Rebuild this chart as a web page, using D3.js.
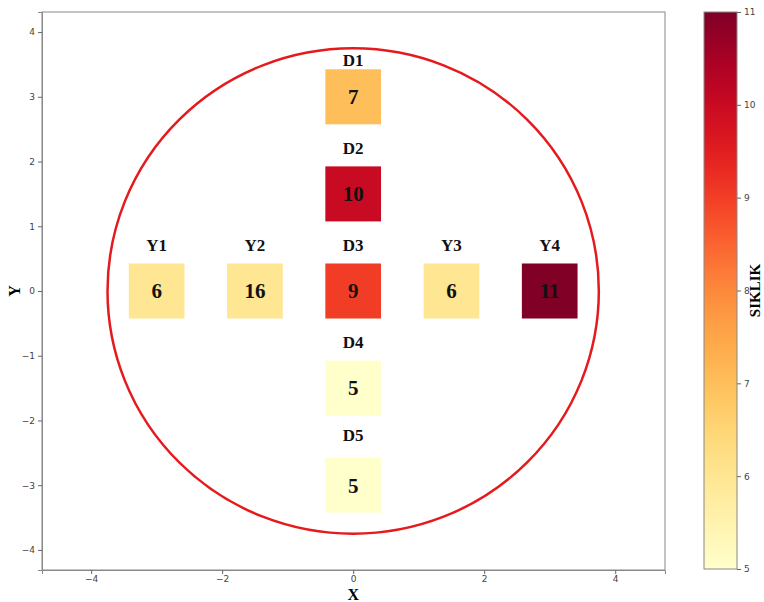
<!DOCTYPE html>
<html>
<head>
<meta charset="utf-8">
<script src="https://cdn.jsdelivr.net/npm/d3@7"></script>
<style>
	body { margin: 0; background: #fff; }
	svg { display: block; }
	.tick text { font-family: "DejaVu Sans", sans-serif; font-size: 9px; fill: #444; }
	.tick line { stroke: #666; }
	.domain { stroke: #888; }
</style>
</head>
<body>
<svg width="764" height="602"></svg>
<script>
// data
var names = ["D1", "D2", "D3", "D4", "D5", "Y1", "Y2", "Y3", "Y4"];
var xs = [0, 0, 0, 0, 0, -3, -1.5, 1.5, 3];
var ys = [3, 1.5, 0, -1.5, -3, 0, 0, 0, 0];
var values = [7, 10, 9, 5, 5, 6, 6, 6, 11];          // colour value
var valueLabels = ["7", "10", "9", "5", "5", "6", "16", "6", "11"]; // printed text
var labelYs = [3.57, 2.21, 0.71, -0.79, -2.23, 0.71, 0.71, 0.71, 0.71];
var xTicks = [-4, -2, 0, 2, 4];
var yTicks = [-4, -3, -2, -1, 0, 1, 2, 3, 4];
var cbTicks = [5, 6, 7, 8, 9, 10, 11];
var circleR = 3.75;
var cellSize = 0.85;

(function(){
	var svg = d3.select("svg"),
		margin = {top: 12, right: 99, bottom: 32, left: 42},
		width = +svg.attr("width") - margin.left - margin.right,
		height = +svg.attr("height") - margin.top - margin.bottom;

	var x = d3.scaleLinear().domain([-4.75, 4.76]).range([0, width]),
		y = d3.scaleLinear().domain([-4.31, 4.31]).range([height, 0]);
	var color = d3.scaleSequential(d3.interpolateYlOrRd).domain([5, 11]);

	var g = svg.append("g")
		.attr("transform", "translate(" + margin.left + "," + margin.top + ")");

	var rows = names.map(function(n, i){
		return {name: n, x: xs[i], y: ys[i], v: values[i], txt: valueLabels[i], ly: labelYs[i]};
	});

	// circle
	g.append("ellipse")
		.attr("cx", x(0)).attr("cy", y(0))
		.attr("rx", x(circleR) - x(0))
		.attr("ry", y(0) - y(circleR))
		.attr("fill", "none")
		.attr("stroke", "#e41a1c")
		.attr("stroke-width", 2.5);

	var half = cellSize / 2;
	g.selectAll(".cell")
		.data(rows)
		.enter().append("rect")
			.attr("class", "cell")
			.attr("x", function(d){ return x(d.x - half); })
			.attr("y", function(d){ return y(d.y + half); })
			.attr("width", function(d){ return x(d.x + half) - x(d.x - half); })
			.attr("height", function(d){ return y(d.y - half) - y(d.y + half); })
			.attr("fill", function(d){ return color(d.v); });

	g.selectAll(".val")
		.data(rows)
		.enter().append("text")
			.attr("class", "val")
			.attr("x", function(d){ return x(d.x); })
			.attr("y", function(d){ return y(d.y); })
			.attr("dy", "0.35em")
			.attr("text-anchor", "middle")
			.style("font-family", "'Liberation Serif', serif")
			.style("font-weight", "bold")
			.style("font-size", "21px")
			.attr("fill", "#111")
			.text(function(d){ return d.txt; });

	g.selectAll(".name")
		.data(rows)
		.enter().append("text")
			.attr("class", "name")
			.attr("x", function(d){ return x(d.x); })
			.attr("y", function(d){ return y(d.ly); })
			.attr("dy", "0.35em")
			.attr("text-anchor", "middle")
			.style("font-family", "'Liberation Serif', serif")
			.style("font-weight", "bold")
			.style("font-size", "17px")
			.attr("fill", "#111")
			.text(function(d){ return d.name; });

	// frame
	g.append("rect")
		.attr("width", width).attr("height", height)
		.attr("fill", "none").attr("stroke", "#888");

	g.append("g")
		.attr("transform", "translate(0," + height + ")")
		.call(d3.axisBottom(x).tickValues(xTicks).tickSize(4).tickPadding(2).tickFormat(d3.format("d")));
	g.append("g")
		.call(d3.axisLeft(y).tickValues(yTicks).tickSize(4).tickFormat(d3.format("d")));

	svg.append("text")
		.attr("x", margin.left + x(0)).attr("y", 600)
		.attr("text-anchor", "middle")
		.style("font-family", "'Liberation Serif', serif")
		.style("font-weight", "bold").style("font-size", "16px")
		.text("X");
	svg.append("text")
		.attr("transform", "translate(20," + (margin.top + y(0)) + ") rotate(-90)")
		.attr("text-anchor", "middle")
		.style("font-family", "'Liberation Serif', serif")
		.style("font-weight", "bold").style("font-size", "16px")
		.text("Y");

	// colorbar
	var cbX = 704, cbW = 33, cbTop = 12, cbH = 557;
	var cy = d3.scaleLinear().domain([5, 11]).range([cbTop + cbH, cbTop]);
	var defs = svg.append("defs");
	var grad = defs.append("linearGradient")
		.attr("id", "cb").attr("x1", 0).attr("y1", 1).attr("x2", 0).attr("y2", 0);
	d3.range(0, 1.0001, 0.05).forEach(function(t){
		grad.append("stop").attr("offset", t).attr("stop-color", color(5 + 6 * t));
	});
	svg.append("rect")
		.attr("x", cbX).attr("y", cbTop).attr("width", cbW).attr("height", cbH)
		.attr("fill", "url(#cb)").attr("stroke", "#888");
	svg.append("g")
		.attr("transform", "translate(" + (cbX + cbW) + ",0)")
		.call(d3.axisRight(cy).tickValues(cbTicks).tickSize(4).tickFormat(d3.format("d")))
		.select(".domain").remove();
	svg.append("text")
		.attr("transform", "translate(760," + (cbTop + cbH / 2) + ") rotate(-90)")
		.attr("text-anchor", "middle")
		.style("font-family", "'Liberation Serif', serif")
		.style("font-weight", "bold").style("font-size", "15px")
		.text("SIKLIK");
})();
</script>
</body>
</html>
